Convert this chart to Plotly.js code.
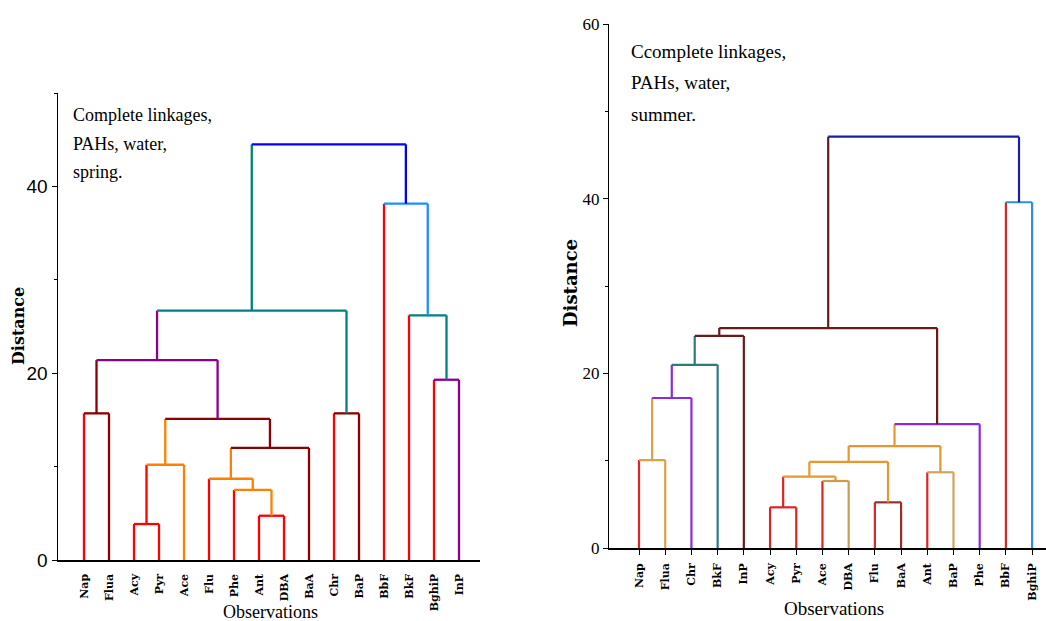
<!DOCTYPE html>
<html>
<head>
<meta charset="utf-8">
<script src="https://cdn.plot.ly/plotly-3.0.1.min.js"></script>
<style>html,body{margin:0;padding:0;background:#fff;}#chart{width:1046px;height:621px;}</style>
</head>
<body>
<div id="chart"></div>
<script>
// ---------- Spring dendrogram (left) ----------
var springLeaves = ["Nap","Flua","Acy","Pyr","Ace","Flu","Phe","Ant","DBA","BaA","Chr","BaP","BbF","BkF","BghiP","InP"];
// merges: node ids 0..15 are leaves (in display order), 16.. are merges in order
var springChildA = [2, 7, 6, 5, 16, 19, 20, 0, 10, 14, 23, 13, 26, 12, 28];
var springChildB = [3, 8, 17, 18, 4, 9, 21, 1, 11, 15, 22, 25, 24, 27, 29];
var springHeight = [3.85, 4.74, 7.5, 8.7, 10.2, 12.0, 15.1, 15.7, 15.7, 19.3, 21.4, 26.2, 26.7, 38.15, 44.5];
var springColor = ["#ff0000","#ff0000","#ff8000","#ff8000","#ff8000","#8b0000","#8b0000","#8b0000","#8b0000",
                   "#8b008b","#8b008b","#008080","#008080","#1e8fff","#0000ff"];
var springLeafColor = "#ff0000";

// ---------- Summer dendrogram (right) ----------
var summerLeaves = ["Nap","Flua","Chr","BkF","InP","Acy","Pyr","Ace","DBA","Flu","BaA","Ant","BaP","Phe","BbF","BghiP"];
var summerChildA = [0, 5, 9, 7, 17, 11, 20, 22, 23, 16, 25, 26, 27, 14, 28];
var summerChildB = [1, 6, 10, 8, 19, 12, 18, 21, 13, 2, 3, 4, 24, 15, 29];
var summerHeight = [10.1, 4.69, 5.26, 7.7, 8.2, 8.7, 9.9, 11.7, 14.2, 17.2, 21.0, 24.3, 25.2, 39.6, 47.1];
var summerColor = ["#dfa04a","#d92626","#9b2d2d","#cf9a58","#e8962e","#d2a260","#e8962e","#e8962e","#8a2be2",
                   "#8a2be2","#2b7b7d","#6b1a1a","#6b1a1a","#2f8ee0","#1c1ca6"];
var summerLeafColor = "#d92626";

function buildDendro(leaves, ca, cb, hh, cols, leafCol, xa, ya, width) {
  var n = leaves.length;
  var pos = [], ht = [], col = [];
  for (var i = 0; i < n; i++) { pos.push(i + 1); ht.push(0); col.push(leafCol); }
  var groups = {};
  function add(c, xs, ys) {
    if (!groups[c]) groups[c] = {x: [], y: []};
    groups[c].x.push(xs[0], xs[1], null);
    groups[c].y.push(ys[0], ys[1], null);
  }
  for (var k = 0; k < hh.length; k++) {
    var a = ca[k], b = cb[k], H = hh[k], c = cols[k];
    add(col[a], [pos[a], pos[a]], [ht[a], H]);
    add(c, [pos[b], pos[b]], [ht[b], H]);
    add(c, [pos[a], pos[b]], [H, H]);
    pos.push((pos[a] + pos[b]) / 2); ht.push(H); col.push(c);
  }
  var traces = [];
  Object.keys(groups).forEach(function (c) {
    traces.push({type: 'scatter', mode: 'lines', x: groups[c].x, y: groups[c].y, xaxis: xa, yaxis: ya,
      line: {color: c, width: width, shape: 'linear'}, hoverinfo: 'skip', showlegend: false, connectgaps: false});
  });
  return traces;
}

var data = buildDendro(springLeaves, springChildA, springChildB, springHeight, springColor, springLeafColor, 'x', 'y', 2.3)
  .concat(buildDendro(summerLeaves, summerChildA, summerChildB, summerHeight, summerColor, summerLeafColor, 'x2', 'y2', 2.2));

function idx(arr) { return arr.map(function (_, i) { return i + 1; }); }

var W = 1046, Hh = 621;
var layout = {
  width: W, height: Hh, autosize: false,
  margin: {l: 0, r: 0, t: 0, b: 0, pad: 0},
  paper_bgcolor: '#fff', plot_bgcolor: 'rgba(0,0,0,0)',
  showlegend: false,
  xaxis: {
    domain: [58 / W, 480 / W], range: [-0.04, 16.84], anchor: 'y',
    showline: true, linecolor: '#000', linewidth: 1.5, showgrid: false, zeroline: false,
    tickmode: 'array', tickvals: idx(springLeaves), ticktext: springLeaves, tickangle: -90,
    ticks: '', ticklabelstandoff: 8,
    tickfont: {family: 'DejaVu Serif', size: 11, color: '#000', weight: 'bold'}
  },
  yaxis: {
    domain: [1 - 560 / Hh, 1 - 93 / Hh], range: [0, 50], anchor: 'x',
    showline: true, linecolor: '#000', linewidth: 1.5, showgrid: false, zeroline: false,
    tickmode: 'linear', tick0: 0, dtick: 20, ticks: 'outside', ticklen: 5, tickwidth: 1, tickcolor: '#000',
    minor: {dtick: 10, ticks: 'outside', ticklen: 3, tickcolor: '#000', showgrid: false},
    tickfont: {family: 'Liberation Sans Narrow, Liberation Sans, sans-serif', size: 19, color: '#000'}
  },
  xaxis2: {
    domain: [609.3 / W, 1], range: [-0.134, 16.53], anchor: 'y2',
    showline: true, linecolor: '#000', linewidth: 1.5, showgrid: false, zeroline: false,
    tickmode: 'array', tickvals: idx(summerLeaves), ticktext: summerLeaves, tickangle: -90,
    ticks: 'outside', ticklen: 5, tickcolor: '#000', ticklabelstandoff: 4,
    tickfont: {family: 'DejaVu Serif', size: 11, color: '#000', weight: 'bold'}
  },
  yaxis2: {
    domain: [1 - 548.3 / Hh, 1 - 24 / Hh], range: [0, 60], anchor: 'x2',
    showline: true, linecolor: '#000', linewidth: 1.5, showgrid: false, zeroline: false,
    tickmode: 'linear', tick0: 0, dtick: 20, ticks: 'outside', ticklen: 5, tickwidth: 1, tickcolor: '#000',
    minor: {dtick: 10, ticks: 'outside', ticklen: 3, tickcolor: '#000', showgrid: false},
    tickfont: {family: 'Liberation Serif, serif', size: 17, color: '#000'}
  },
  annotations: [
    {xref: 'paper', yref: 'paper', x: 71 / W, y: 1 - 115 / Hh, xanchor: 'left', yanchor: 'middle', showarrow: false,
      text: 'Complete linkages,', font: {family: 'Liberation Serif', size: 18, color: '#000'}},
    {xref: 'paper', yref: 'paper', x: 71 / W, y: 1 - 144 / Hh, xanchor: 'left', yanchor: 'middle', showarrow: false,
      text: 'PAHs, water,', font: {family: 'Liberation Serif', size: 18, color: '#000'}},
    {xref: 'paper', yref: 'paper', x: 71 / W, y: 1 - 172 / Hh, xanchor: 'left', yanchor: 'middle', showarrow: false,
      text: 'spring.', font: {family: 'Liberation Serif', size: 18, color: '#000'}},
    {xref: 'paper', yref: 'paper', x: 629 / W, y: 1 - 51 / Hh, xanchor: 'left', yanchor: 'middle', showarrow: false,
      text: 'Ccomplete linkages,', font: {family: 'Liberation Serif', size: 19, color: '#000'}},
    {xref: 'paper', yref: 'paper', x: 629 / W, y: 1 - 82 / Hh, xanchor: 'left', yanchor: 'middle', showarrow: false,
      text: 'PAHs, water,', font: {family: 'Liberation Serif', size: 19, color: '#000'}},
    {xref: 'paper', yref: 'paper', x: 629 / W, y: 1 - 114 / Hh, xanchor: 'left', yanchor: 'middle', showarrow: false,
      text: 'summer.', font: {family: 'Liberation Serif', size: 19, color: '#000'}},
    {xref: 'paper', yref: 'paper', x: 270 / W, y: 1 - 612 / Hh, xanchor: 'center', yanchor: 'middle', showarrow: false,
      text: 'Observations', font: {family: 'Liberation Serif', size: 18, color: '#000'}},
    {xref: 'paper', yref: 'paper', x: 834 / W, y: 1 - 608 / Hh, xanchor: 'center', yanchor: 'middle', showarrow: false,
      text: 'Observations', font: {family: 'Liberation Serif', size: 19, color: '#000'}},
    {xref: 'paper', yref: 'paper', x: 18 / W, y: 1 - 326 / Hh, xanchor: 'center', yanchor: 'middle', showarrow: false,
      textangle: -90, text: '<b>Distance</b>', font: {family: 'DejaVu Serif', size: 16, color: '#000'}},
    {xref: 'paper', yref: 'paper', x: 570 / W, y: 1 - 283 / Hh, xanchor: 'center', yanchor: 'middle', showarrow: false,
      textangle: -90, text: '<b>Distance</b>', font: {family: 'DejaVu Serif', size: 18, color: '#000'}}
  ]
};

Plotly.newPlot('chart', data, layout, {displayModeBar: false, staticPlot: true});
</script>
</body>
</html>
